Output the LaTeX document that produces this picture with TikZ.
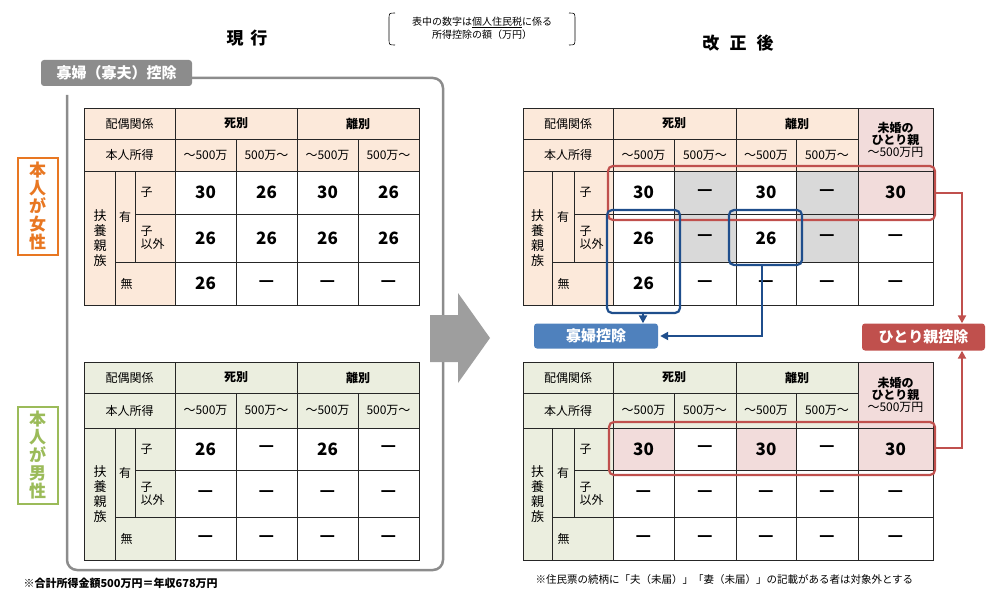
\documentclass[tikz,border=0pt]{standalone}
\usepackage{fontspec}
\setmainfont{Noto Sans CJK JP}
\usetikzlibrary{arrows.meta}
\definecolor{peach}{HTML}{FCE9DA}
\definecolor{lgreen}{HTML}{EBEEDF}
\definecolor{pinkc}{HTML}{F2DCDB}
\definecolor{grayc}{HTML}{D9D9D9}
\definecolor{redc}{HTML}{C0504D}
\definecolor{blued}{HTML}{1F4E8C}
\definecolor{bluef}{HTML}{4F81BD}
\definecolor{framec}{HTML}{8C8C8C}
\definecolor{orangec}{HTML}{E87722}
\definecolor{greenc}{HTML}{9BBB59}
\tikzset{
 tl/.style={draw=black!85,line width=0.9pt},
 hd/.style={font=\fontsize{12}{13}\selectfont},
 hb/.style={font=\bfseries\fontsize{12}{13}\selectfont},
 vl/.style={font=\bfseries\fontsize{18}{20}\selectfont},
 sm/.style={font=\fontsize{12}{13}\selectfont},
 vt/.style={align=center,font=\fontsize{13}{15}\selectfont,inner sep=0pt},
 redbox/.style={draw=redc,line width=2.2pt,rounded corners=5pt},
 bluebox/.style={draw=blued,line width=2.2pt,rounded corners=5pt},
 redarr/.style={draw=redc,line width=2pt,-{Triangle[length=8pt,width=8pt]}},
 bluearr/.style={draw=blued,line width=2pt,-{Triangle[length=8pt,width=8pt]}},
}
% common left-side row labels
\newcommand\rowlabels[6]{% #1 x0 #2 a #3 b #4..: y4,y5,y6 (with y7 in #6?) 
}
\newcommand\tabL[8]{%
 \fill[#1] (84,#2) rectangle (419,#4);
 \fill[#1] (84,#4) rectangle (175,#7);
 \draw[tl] (84,#2) rectangle (419,#7);
 \draw[tl] (84,#3) -- (419,#3);
 \draw[tl] (84,#4) -- (419,#4);
 \draw[tl] (135,#5) -- (419,#5);
 \draw[tl] (115,#6) -- (419,#6);
 \draw[tl] (175,#2) -- (175,#7);
 \draw[tl] (297,#2) -- (297,#7);
 \draw[tl] (236,#3) -- (236,#7);
 \draw[tl] (358,#3) -- (358,#7);
 \draw[tl] (115,#4) -- (115,#7);
 \draw[tl] (135,#4) -- (135,#6);
 \node[hd] (#8a) at (129.5,{(#2+#3)/2}) {配偶関係};
 \node[hb] (#8b) at (236,{(#2+#3)/2}) {死別};
 \node[hb] (#8c) at (358,{(#2+#3)/2}) {離別};
 \node[hd] (#8d) at (129.5,{(#3+#4)/2}) {本人所得};
 \node[sm] (#8e) at (205.5,{(#3+#4)/2}) {～500万};
 \node[sm] (#8f) at (266.5,{(#3+#4)/2}) {500万～};
 \node[sm] (#8g) at (327.5,{(#3+#4)/2}) {～500万};
 \node[sm] (#8h) at (388.5,{(#3+#4)/2}) {500万～};
 \node[vt] (#8i) at (100,{(#4+#7)/2}) {扶\\養\\親\\族};
 \node[hd] (#8j) at (125,{(#4+#6)/2}) {有};
 \node[hd,anchor=west] (#8k) at (137,{(#4+#5)/2}) {子};
 \node[hd,anchor=west,align=left] (#8l) at (137,{(#5+#6)/2}) {子\\以外};
 \node[hd,anchor=west] (#8m) at (117,{(#6+#7)/2}) {無};
}
\newcommand\tabR[8]{%
 \fill[#1] (523,#2) rectangle (858,#4);
 \fill[#1] (523,#4) rectangle (613,#7);
 \fill[pinkc] (858,#2) rectangle (933,#4);
 \draw[tl] (523,#2) rectangle (933,#7);
 \draw[tl] (523,#3) -- (858,#3);
 \draw[tl] (523,#4) -- (933,#4);
 \draw[tl] (574,#5) -- (933,#5);
 \draw[tl] (552,#6) -- (933,#6);
 \draw[tl] (613,#2) -- (613,#7);
 \draw[tl] (736,#2) -- (736,#7);
 \draw[tl] (858,#2) -- (858,#7);
 \draw[tl] (674,#3) -- (674,#7);
 \draw[tl] (796,#3) -- (796,#7);
 \draw[tl] (552,#4) -- (552,#7);
 \draw[tl] (574,#4) -- (574,#6);
 \node[hd] (#8a) at (568,{(#2+#3)/2}) {配偶関係};
 \node[hb] (#8b) at (674,{(#2+#3)/2}) {死別};
 \node[hb] (#8c) at (797,{(#2+#3)/2}) {離別};
 \node[hd] (#8d) at (568,{(#3+#4)/2}) {本人所得};
 \node[sm] (#8e) at (643.5,{(#3+#4)/2}) {～500万};
 \node[sm] (#8f) at (705,{(#3+#4)/2}) {500万～};
 \node[sm] (#8g) at (766,{(#3+#4)/2}) {～500万};
 \node[sm] (#8h) at (827,{(#3+#4)/2}) {500万～};
 \node[align=center,font=\bfseries\fontsize{12}{12}\selectfont,inner sep=0pt] (#8n) at (895.5,{(#2+#4)/2}) {未婚の\\ひとり親\\{\mdseries ～500万円}};
 \node[vt] (#8i) at (537.5,{(#4+#7)/2}) {扶\\養\\親\\族};
 \node[hd] (#8j) at (563,{(#4+#6)/2}) {有};
 \node[hd,anchor=west] (#8k) at (576,{(#4+#5)/2}) {子};
 \node[hd,anchor=west,align=left] (#8l) at (576,{(#5+#6)/2}) {子\\以外};
 \node[hd,anchor=west] (#8m) at (554,{(#6+#7)/2}) {無};
}
\begin{document}
\begin{tikzpicture}[x=1pt,y=-1pt,num/.style={font=\bfseries\fontsize{17}{18}\selectfont}]
\useasboundingbox (0,0) rectangle (994,602);
% titles
\node[font=\bfseries\fontsize{17}{18}\selectfont] (t1) at (247,38) {現\hspace{0.4em}行};
\node[font=\bfseries\fontsize{17}{18}\selectfont] (t2) at (738,43) {改\hspace{0.6em}正\hspace{0.6em}後};
\node[align=center,font=\fontsize{10}{13}\selectfont] (note) at (482,28) {表中の数字は\underline{個人住民税}に係る\\所得控除の額（万円）};
\draw[line width=0.6pt] (395,13) .. controls (389,13) .. (389,20) -- (389,38) .. controls (389,45) .. (395,45);
\draw[line width=0.6pt] (569,13) .. controls (575,13) .. (575,20) -- (575,38) .. controls (575,45) .. (569,45);
% gray frame
\draw[framec,line width=2.5pt,rounded corners=10pt] (67,95) -- (67,570) -- (443,570) -- (443,78) -- (150,78);
\node[fill=framec,text=white,rounded corners=3pt,minimum width=151pt,minimum height=26pt,font=\bfseries\fontsize{15}{16}\selectfont,inner sep=0pt] (kf) at (116.5,73) {寡婦（寡夫）控除};
% side labels
\node[draw=orangec,line width=2pt,text=orangec,minimum width=40pt,minimum height=97pt,align=center,font=\bfseries\fontsize{17}{18}\selectfont,inner sep=0pt] (fem) at (37.5,206) {本\\人\\が\\女\\性};
\node[draw=greenc,line width=2pt,text=greenc,minimum width=40pt,minimum height=97pt,align=center,font=\bfseries\fontsize{17}{18}\selectfont,inner sep=0pt] (mal) at (37.5,455) {本\\人\\が\\男\\性};
% big arrow
\fill[black!38] (430,315) -- (458,315) -- (458,293) -- (490,338) -- (458,383) -- (458,362) -- (430,362) -- cycle;
% left tables
\tabL{peach}{108}{139}{171}{214}{262}{305}{lf}
\foreach \x/\v [count=\i] in {205.5/30,266.5/26,327.5/30,388.5/26} \node[num] (lfa\i) at (\x,192.5) {\v};
\foreach \x/\v [count=\i] in {205.5/26,266.5/26,327.5/26,388.5/26} \node[num] (lfb\i) at (\x,238) {\v};
\foreach \x/\v [count=\i] in {205.5/26,266.5/—,327.5/—,388.5/—} \node[num] (lfc\i) at (\x,283.5) {\v};
\tabL{lgreen}{362}{393}{428}{470}{517}{560}{lm}
\foreach \x/\v [count=\i] in {205.5/26,266.5/—,327.5/26,388.5/—} \node[num] (lma\i) at (\x,449) {\v};
\foreach \x [count=\i] in {205.5,266.5,327.5,388.5} {\node[num] (lmb\i) at (\x,493.5) {—}; \node[num] (lmc\i) at (\x,538.5) {—};}
% right top
\fill[grayc] (674,171) rectangle (736,262);
\fill[grayc] (796,171) rectangle (858,262);
\fill[pinkc] (858,171) rectangle (933,214);
\tabR{peach}{108}{139}{171}{214}{262}{305}{rf}
\foreach \x/\v [count=\i] in {643.5/30,705/—,766/30,827/—,895.5/30} \node[num] (rfa\i) at (\x,192.5) {\v};
\foreach \x/\v [count=\i] in {643.5/26,705/—,766/26,827/—,895.5/—} \node[num] (rfb\i) at (\x,238) {\v};
\foreach \x/\v [count=\i] in {643.5/26,705/—,766/—,827/—,895.5/—} \node[num] (rfc\i) at (\x,283.5) {\v};
% right bottom
\fill[pinkc] (613,428) rectangle (674,470);
\fill[pinkc] (736,428) rectangle (796,470);
\fill[pinkc] (858,428) rectangle (933,470);
\tabR{lgreen}{362}{393}{428}{470}{517}{560}{rm}
\foreach \x/\v [count=\i] in {643.5/30,705/—,766/30,827/—,895.5/30} \node[num] (rma\i) at (\x,449) {\v};
\foreach \x [count=\i] in {643.5,705,766,827,895.5} {\node[num] (rmb\i) at (\x,493.5) {—}; \node[num] (rmc\i) at (\x,538.5) {—};}
% highlight boxes
\draw[redbox] (608,166) rectangle (935,220);
\draw[redbox] (609,422) rectangle (935,475);
\draw[bluebox] (607,210) rectangle (680,313);
\draw[bluebox] (729,210) rectangle (802,265);
\coordinate (rt) at (935,193);
\coordinate (rb) at (935,448);
\coordinate (b1) at (643,313);
\coordinate (b2) at (762,265);
% deduction labels
\node[fill=bluef,text=white,rounded corners=3pt,minimum width=124pt,minimum height=25pt,inner sep=0pt,font=\bfseries\fontsize{15}{16}\selectfont] (kd) at (596,336) {寡婦控除};
\node[fill=redc,text=white,rounded corners=3pt,minimum width=123pt,minimum height=27pt,inner sep=0pt,font=\bfseries\fontsize{15}{16}\selectfont] (hd) at (923.5,337) {ひとり親控除};
\draw[bluearr] (b1) -- (b1 |- kd.north);
\draw[bluearr] (b2) |- ([xshift=2pt]kd.east);
\draw[redarr] (rt) -| (hd.north -| 962,0);
\draw[redarr] (rb) -| (hd.south -| 962,0);
% footnotes
\node[anchor=west,font=\bfseries\fontsize{11}{12}\selectfont] (f1) at (20,583) {※合計所得金額500万円＝年収678万円};
\node[anchor=west,font=\fontsize{10.5}{12}\selectfont] (f2) at (532,580) {※住民票の続柄に「夫（未届）」「妻（未届）」の記載がある者は対象外とする};
\end{tikzpicture}
\end{document}
